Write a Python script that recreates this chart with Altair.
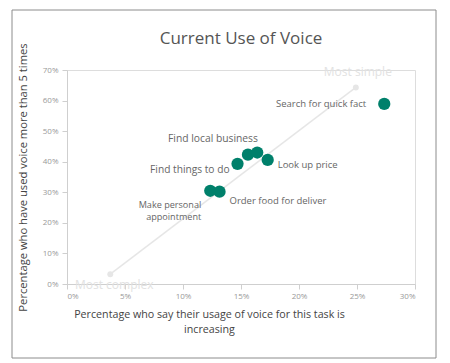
import altair as alt
import pandas as pd

# ---- data ----
tasks = ["Search for quick fact", "Find local business", "Task 3", "Look up price",
         "Find things to do", "Make personal appointment", "Order food for deliver"]
pct_increasing = [0.2735, 0.156, 0.164, 0.173, 0.147, 0.1235, 0.1315]
pct_used = [0.589, 0.423, 0.430, 0.406, 0.393, 0.305, 0.302]

ref_labels = ["Most complex", "Most simple"]
ref_x = [0.0373, 0.249]
ref_y = [0.032, 0.643]

x_ticks = [0, 0.05, 0.10, 0.15, 0.20, 0.25, 0.30]
y_ticks = [0, 0.10, 0.20, 0.30, 0.40, 0.50, 0.60, 0.70]

df = pd.DataFrame({"task": tasks, "inc": pct_increasing, "used": pct_used})
ref = pd.DataFrame({"label": ref_labels, "inc": ref_x, "used": ref_y})

FONT = "Open Sans"
TEAL = "#00806b"
LIGHT = "#e6e6e6"

xs = alt.Scale(domain=[0, 0.30], nice=False, zero=True)
ys = alt.Scale(domain=[0, 0.70], nice=False, zero=True)

x_enc = alt.X("inc:Q", scale=xs, axis=alt.Axis(
    values=x_ticks, format=".0%", tickCount=7,
    title=["Percentage who say their usage of voice for this task is", "increasing"],
    titleX=142, titleY=25, titleBaseline="top", titleAlign="center",
    titleFontSize=10.7, titleFontWeight="normal", titleColor="#444", titleFont=FONT,
    titleLineHeight=15,
    labelFontSize=8, labelColor="#999", labelFont=FONT, labelPadding=3, labelOverlap=False,
    tickSize=5, tickColor="#cfcfcf", domainColor="#cfcfcf", grid=False))
y_enc = alt.Y("used:Q", scale=ys, axis=alt.Axis(
    values=y_ticks, format=".0%", tickCount=8,
    title="Percentage who have used voice more than 5 times",
    titleX=-44, titleY=107, titleAngle=-90, titleBaseline="middle", titleAlign="center",
    titleFontSize=11.2, titleFontWeight="normal", titleColor="#444", titleFont=FONT,
    labelFontSize=8, labelColor="#999", labelFont=FONT, labelPadding=4, labelOverlap=False,
    tickSize=5, tickColor="#cfcfcf", domainColor="#cfcfcf", grid=False))

base_ref = alt.Chart(ref)
ref_line = base_ref.mark_line(color=LIGHT, strokeWidth=1.5).encode(x=x_enc, y=y_enc)
ref_pts = base_ref.mark_circle(color=LIGHT, size=35, opacity=1).encode(x=x_enc, y=y_enc)

ref_text_styles = {
    "Most complex": dict(dx=4, dy=11),
    "Most simple": dict(dx=2, dy=-15),
}
ref_texts = []
for lab, st in ref_text_styles.items():
    ref_texts.append(
        base_ref.transform_filter(alt.datum.label == lab)
        .mark_text(font=FONT, fontSize=12, color="#e2e2e2", align="center",
                   baseline="middle", **st)
        .encode(x=x_enc, y=y_enc, text="label:N"))

pts = alt.Chart(df).mark_circle(color=TEAL, size=150, opacity=1).encode(x=x_enc, y=y_enc)

label_styles = {
    "Search for quick fact": dict(dx=-18, dy=0, align="right", fontSize=9.5),
    "Find local business": dict(dx=-35, dy=-16, align="center", fontSize=10.3),
    "Find things to do": dict(dx=-8, dy=6, align="right", fontSize=10.2),
    "Look up price": dict(dx=10, dy=5, align="left", fontSize=9.5),
    "Make personal appointment": dict(dx=-9, dy=14, align="right", fontSize=9.1),
    "Order food for deliver": dict(dx=10, dy=9, align="left", fontSize=9.5),
}
labels = []
for lab, st in label_styles.items():
    labels.append(
        alt.Chart(df).transform_filter(alt.datum.task == lab)
        .transform_calculate(t=alt.expr.replace(alt.datum.task, "personal ", "personal\n"))
        .mark_text(font=FONT, color="#666", baseline="middle", lineBreak="\n",
                   lineHeight=12, **st)
        .encode(x=x_enc, y=y_enc, text="t:N"))

border = alt.Chart(pd.DataFrame({"b": [0]})).mark_rect(
    fillOpacity=0, stroke="#8c8c8c", strokeWidth=1
).encode(x=alt.value(-55), x2=alt.value(369), y=alt.value(-60), y2=alt.value(288))

chart = alt.layer(ref_line, ref_pts, *ref_texts, pts, *labels, border).properties(
    width=348, height=214,
    title=alt.TitleParams("Current Use of Voice", font=FONT, fontSize=17,
                          fontWeight="normal", color="#555", anchor="middle",
                          offset=0, dy=38),
    autosize=alt.AutoSizeParams(type="none"),
    padding={"left": 59, "top": 62, "right": 22, "bottom": 75},
).configure_view(stroke=None).configure(background="white")

chart.save("out.html", embed_options={"renderer": "svg", "actions": False})
